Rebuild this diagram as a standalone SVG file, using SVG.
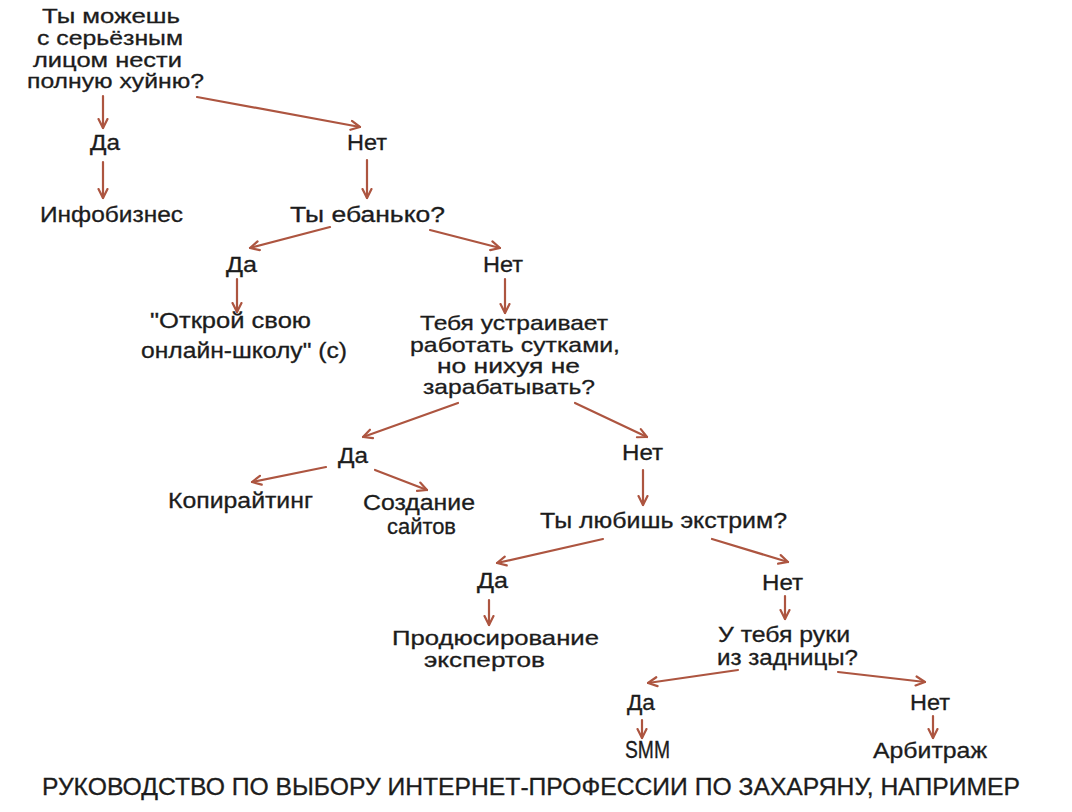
<svg xmlns="http://www.w3.org/2000/svg" width="1072" height="812" viewBox="0 0 1072 812">
<style>
text{font-family:"Liberation Sans","Noto Sans",Arial,sans-serif;font-size:22px;fill:#1c1c1c;stroke:#1c1c1c;stroke-width:0.3;}
.tight text{font-size:21px;}
.title{font-size:24px;}
.c line{stroke:#ad5540;stroke-width:2.2;stroke-linecap:round;marker-end:url(#ah);}
</style>
<defs>
<marker id="ah" viewBox="0 0 12 12" refX="10.5" refY="6" markerWidth="12" markerHeight="12" markerUnits="userSpaceOnUse" orient="auto">
<path d="M1.5,1.5 L10.5,6 L1.5,10.5" fill="none" stroke="#ad5540" stroke-width="2.2" stroke-linecap="round" stroke-linejoin="round"/>
</marker>
</defs>
<rect width="1072" height="812" fill="#ffffff"/>
<g id="connectors" class="c">
<line x1="103" y1="96" x2="103" y2="128"/>
<line x1="103" y1="162" x2="103" y2="198"/>
<line x1="197" y1="97" x2="360" y2="127"/>
<line x1="367" y1="160" x2="367" y2="198"/>
<line x1="330" y1="227" x2="250" y2="248"/>
<line x1="430" y1="230" x2="500" y2="248"/>
<line x1="237" y1="279" x2="237" y2="312"/>
<line x1="505" y1="279" x2="505" y2="313"/>
<line x1="458" y1="403" x2="363" y2="437"/>
<line x1="575" y1="403" x2="647" y2="437"/>
<line x1="326" y1="467" x2="252" y2="482"/>
<line x1="375" y1="470" x2="427" y2="490"/>
<line x1="643" y1="470" x2="643" y2="505"/>
<line x1="603" y1="539" x2="497" y2="563"/>
<line x1="712" y1="539" x2="788" y2="562"/>
<line x1="489" y1="600" x2="489" y2="625"/>
<line x1="785" y1="596" x2="785" y2="619"/>
<line x1="738" y1="670" x2="648" y2="683"/>
<line x1="838" y1="672" x2="925" y2="682"/>
<line x1="642" y1="720" x2="642" y2="738"/>
<line x1="933" y1="716" x2="933" y2="738"/>
</g>
<g id="q1" class="tight">
<text x="42" y="23" textLength="138" lengthAdjust="spacingAndGlyphs">Ты можешь</text>
<text x="37" y="45" textLength="146" lengthAdjust="spacingAndGlyphs">с серьёзным</text>
<text x="33" y="67" textLength="149" lengthAdjust="spacingAndGlyphs">лицом нести</text>
<text x="27" y="88" textLength="177" lengthAdjust="spacingAndGlyphs">полную хуйню?</text>
</g>
<g id="q1-yes"><text x="90" y="150" textLength="30" lengthAdjust="spacingAndGlyphs">Да</text></g>
<g id="infobiz"><text x="40" y="222" textLength="143" lengthAdjust="spacingAndGlyphs">Инфобизнес</text></g>
<g id="q1-no"><text x="347" y="150" textLength="40" lengthAdjust="spacingAndGlyphs">Нет</text></g>
<g id="q2"><text x="290" y="222" textLength="155" lengthAdjust="spacingAndGlyphs">Ты ебанько?</text></g>
<g id="q2-yes"><text x="226" y="272" textLength="31" lengthAdjust="spacingAndGlyphs">Да</text></g>
<g id="q2-no"><text x="483" y="272" textLength="40" lengthAdjust="spacingAndGlyphs">Нет</text></g>
<g id="school">
<text x="150" y="328" textLength="161" lengthAdjust="spacingAndGlyphs">"Открой свою</text>
<text x="141" y="358" textLength="206" lengthAdjust="spacingAndGlyphs">онлайн-школу" (с)</text>
</g>
<g id="q3" class="tight">
<text x="420" y="330" textLength="188" lengthAdjust="spacingAndGlyphs">Тебя устраивает</text>
<text x="410" y="352" textLength="210" lengthAdjust="spacingAndGlyphs">работать сутками,</text>
<text x="437" y="373" textLength="143" lengthAdjust="spacingAndGlyphs">но нихуя не</text>
<text x="423" y="394" textLength="172" lengthAdjust="spacingAndGlyphs">зарабатывать?</text>
</g>
<g id="q3-yes"><text x="338" y="463" textLength="30" lengthAdjust="spacingAndGlyphs">Да</text></g>
<g id="q3-no"><text x="622" y="460" textLength="41" lengthAdjust="spacingAndGlyphs">Нет</text></g>
<g id="copy"><text x="168" y="508" textLength="145" lengthAdjust="spacingAndGlyphs">Копирайтинг</text></g>
<g id="sites">
<text x="363" y="510" textLength="112" lengthAdjust="spacingAndGlyphs">Создание</text>
<text x="387" y="534" textLength="69" lengthAdjust="spacingAndGlyphs">сайтов</text>
</g>
<g id="q4"><text x="540" y="528" textLength="247" lengthAdjust="spacingAndGlyphs">Ты любишь экстрим?</text></g>
<g id="q4-yes"><text x="477" y="588" textLength="31" lengthAdjust="spacingAndGlyphs">Да</text></g>
<g id="q4-no"><text x="762" y="590" textLength="41" lengthAdjust="spacingAndGlyphs">Нет</text></g>
<g id="producing" class="tight">
<text x="392" y="645" textLength="207" lengthAdjust="spacingAndGlyphs">Продюсирование</text>
<text x="424" y="667" textLength="121" lengthAdjust="spacingAndGlyphs">экспертов</text>
</g>
<g id="q5">
<text x="718" y="642" textLength="132" lengthAdjust="spacingAndGlyphs">У тебя руки</text>
<text x="717" y="665" textLength="141" lengthAdjust="spacingAndGlyphs">из задницы?</text>
</g>
<g id="q5-yes"><text x="627" y="710" textLength="28" lengthAdjust="spacingAndGlyphs">Да</text></g>
<g id="q5-no"><text x="910" y="710" textLength="40" lengthAdjust="spacingAndGlyphs">Нет</text></g>
<g id="smm"><text x="625" y="758" textLength="45" lengthAdjust="spacingAndGlyphs" style="font-size:23px">SMM</text></g>
<g id="arbitrage"><text x="873" y="758" textLength="114" lengthAdjust="spacingAndGlyphs">Арбитраж</text></g>
<g id="caption"><text class="title" x="42" y="795" textLength="978" lengthAdjust="spacingAndGlyphs">РУКОВОДСТВО ПО ВЫБОРУ ИНТЕРНЕТ-ПРОФЕССИИ ПО ЗАХАРЯНУ, НАПРИМЕР</text></g>
</svg>
